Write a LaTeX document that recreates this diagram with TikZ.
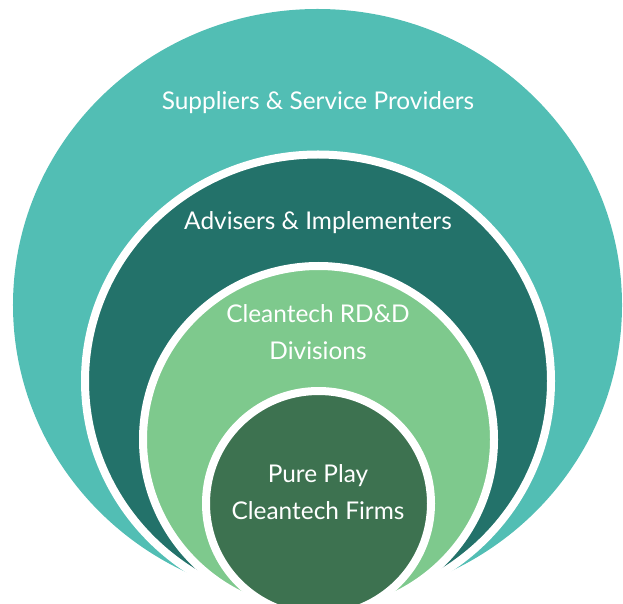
\documentclass[tikz,border=0pt]{standalone}
\usepackage{fontspec}
\setmainfont{Lato}
\usepackage{tikz}
\usetikzlibrary{shapes.geometric}
\definecolor{lightteal}{RGB}{82,190,180}
\definecolor{darkteal}{RGB}{35,114,106}
\definecolor{lightgreen}{RGB}{126,201,141}
\definecolor{darkgreen}{RGB}{61,114,80}

\begin{document}
\begin{tikzpicture}[x=1bp,y=-1bp,
	ring/.style={ellipse,inner sep=0pt,draw=white,line width=8bp},
	lbl/.style={text=white,font=\fontsize{24.5}{37}\selectfont,align=center}]
	\clip (0,0) rectangle (623,604);
	% circles, outermost first
	\node[ring,draw=none,fill=lightteal,minimum width=609bp,minimum height=592bp] (c_0) at (317.5,305) {};
	\node[ring,fill=darkteal,minimum width=466bp,minimum height=453bp] (c_1) at (318,381) {};
	\node[ring,fill=lightgreen,minimum width=351bp,minimum height=347bp] (c_2) at (318.5,439.5) {};
	\node[ring,fill=darkgreen,minimum width=225bp,minimum height=225bp] (c_3) at (318.5,503.5) {};
	% labels
	\node[lbl] (l_0) at (318,102.5) {Suppliers \& Service Providers};
	\node[lbl] (l_1) at (318,222.5) {Advisers \& Implementers};
	\node[lbl] (l_2) at (318,332.5) {Cleantech RD\&D\\Divisions};
	\node[lbl] (l_3) at (318,492.5) {Pure Play\\Cleantech Firms};
\end{tikzpicture}
\end{document}
